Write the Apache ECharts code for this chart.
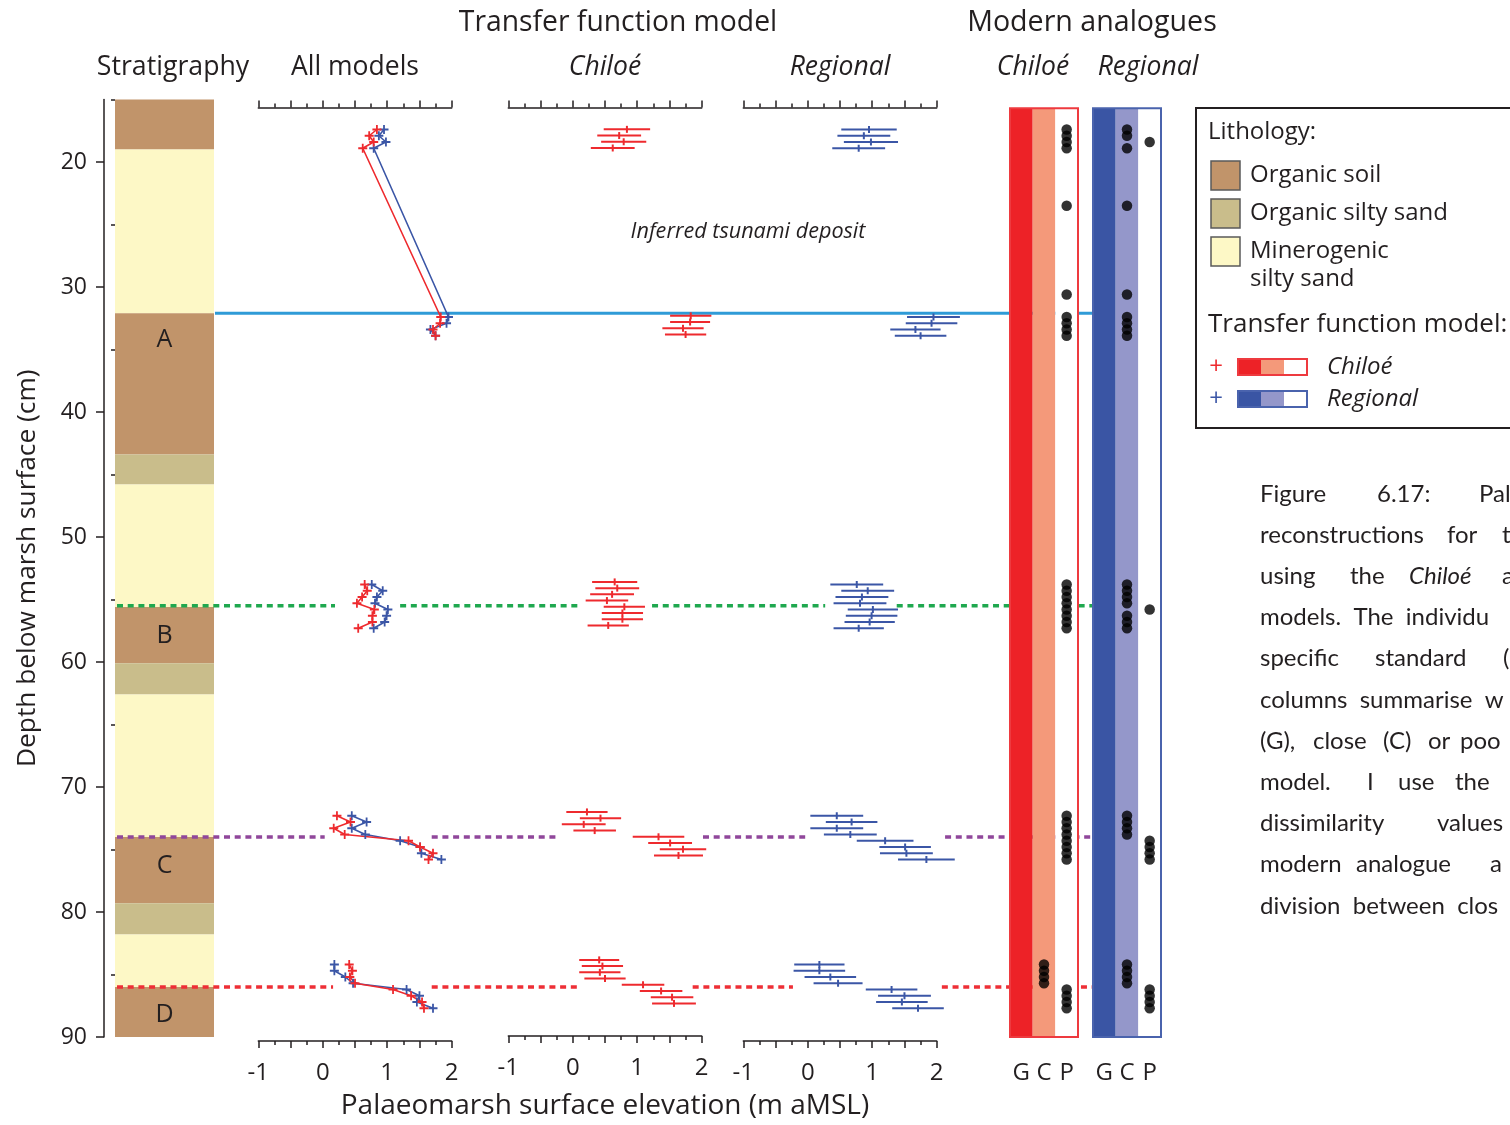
<!DOCTYPE html>
<html><head><meta charset="utf-8">
<script src="https://cdn.jsdelivr.net/npm/echarts@6/dist/echarts.min.js"></script>
<style>html,body{margin:0;padding:0;background:#fff}#c{width:1510px;height:1125px}</style>
</head><body><div id="c"></div>
<script>
// ---------------- DATA ----------------
const sampleDepths = [17.4,17.9,18.4,18.9, 32.4,32.9,33.4,33.9,
  53.8,54.3,54.8,55.3,55.8,56.3,56.8,57.3,
  72.3,72.8,73.3,73.8,74.3,74.8,75.3,75.8,
  84.2,84.7,85.2,85.7,86.2,86.7,87.2,87.7];
const sampleGroup = [0,0,0,0,0,0,0,0, 1,1,1,1,1,1,1,1, 2,2,2,2,2,2,2,2, 3,3,3,3,3,3,3,3];
const chiloeValue = [0.84,0.72,0.79,0.62, 1.83,1.82,1.71,1.75,
  0.65,0.69,0.61,0.53,0.80,0.77,0.77,0.55,
  0.22,0.43,0.17,0.34,1.33,1.51,1.71,1.64,
  0.41,0.46,0.42,0.50,1.09,1.37,1.54,1.57];
const chiloeError = [0.36,0.34,0.35,0.34, 0.32,0.31,0.32,0.32,
  0.35,0.34,0.34,0.33,0.32,0.32,0.32,0.32,
  0.32,0.32,0.34,0.33,0.40,0.34,0.36,0.38,
  0.31,0.32,0.32,0.32,0.33,0.33,0.33,0.34];
const regionalValue = [0.95,0.87,0.98,0.79, 1.95,1.92,1.67,1.75,
  0.76,0.93,0.84,0.81,1.01,0.99,0.96,0.79,
  0.45,0.68,0.45,0.66,1.20,1.51,1.53,1.84,
  0.18,0.18,0.35,0.47,1.30,1.50,1.46,1.71];
const regionalError = [0.43,0.41,0.42,0.41, 0.41,0.40,0.39,0.40,
  0.41,0.41,0.41,0.41,0.39,0.40,0.39,0.39,
  0.41,0.40,0.41,0.41,0.44,0.40,0.41,0.44,
  0.39,0.40,0.40,0.38,0.40,0.41,0.40,0.40];

// modern analogue classes (G good, C close, P poor)
const maDepth = [17.4,17.9,18.4,18.9,23.5,30.6,32.4,32.9,33.4,33.9,
  53.8,54.3,54.8,55.3,55.8,56.3,56.8,57.3,
  72.3,72.8,73.3,73.8,74.3,74.8,75.3,75.8,
  84.2,84.7,85.2,85.7,86.2,86.7,87.2,87.7];
const maChiloe = ['P','P','P','P','P','P','P','P','P','P',
  'P','P','P','P','P','P','P','P',
  'P','P','P','P','P','P','P','P',
  'C','C','C','C','P','P','P','P'];
const maRegional = ['C','C','P','C','C','C','C','C','C','C',
  'C','C','C','C','P','C','C','C',
  'C','C','C','C','P','P','P','P',
  'C','C','C','C','P','P','P','P'];
const maCategories = ['G','C','P'];
const maTop = 15.7, maBottom = 90;

// stratigraphy (0 organic soil, 1 organic silty sand, 2 minerogenic silty sand)
const stratTop  = [15, 19, 32.1, 43.4, 45.8, 55.6, 60.1, 62.6, 74.0, 79.3, 81.8, 86.0];
const stratBase = [19, 32.1, 43.4, 45.8, 55.6, 60.1, 62.6, 74.0, 79.3, 81.8, 86.0, 90];
const stratType = [0, 2, 0, 1, 2, 0, 1, 2, 0, 1, 2, 0];
const lithologyNames = ['Organic soil', 'Organic silty sand', 'Minerogenic\nsilty sand'];
const zoneLabels = ['A','B','C','D'];
const zoneLabelDepth = [34.2, 57.9, 76.3, 88.2];

// event horizons
const eventDepth = [32.1, 55.5, 74.0, 86.0];
const depthTicks = [20,30,40,50,60,70,80,90];
const depthMinorTicks = [15,25,35,45,55,65,75,85];
const elevTickLabels = [-1,0,1,2];

// ---------------- STYLE / LAYOUT ----------------
const FONT = 'Open Sans';
const TXT = '#231f20';
const RED = '#ee2a2e', BLUE = '#3b56a6';
const lithColors = ['#c1946a', '#c9bd8b', '#fdf8c6'];
const maColorsC = ['#ed2227', '#f4997a', '#ffffff'];
const maColorsR = ['#3a55a4', '#9497ca', '#ffffff'];
const eventStyle = [
  {stroke:'#2f9bd7', lineWidth:3, lineDash:null},
  {stroke:'#1fa84f', lineWidth:3.5, lineDash:[6,4.7]},
  {stroke:'#90479b', lineWidth:3.5, lineDash:[6,4.7]},
  {stroke:'#ee2f36', lineWidth:3.5, lineDash:[6,4.7]}
];
const eventStartX = [215, 117, 117, 117];
const eventEndX = 1093;
// gaps (in each panel's elevation units) where the horizon line is interrupted
const eventGaps = [
  null,
  [[0.19,1.20],[0.14,1.23],[0.27,1.38]],
  [[0.03,1.69],[-0.20,2.02],[-0.04,2.13]],
  [[0.16,1.69],[0.08,1.86],[-0.23,2.08]]
];
const TOP = 99.5, H = 937.5;
const panelLeft = [258.3, 508.3, 743.3], panelW = 193.4;

const chart = echarts.init(document.getElementById('c'));

const depthAxis = (g) => ({type:'value', gridIndex:g, min:15, max:90, inverse:true, show:false});
const axLine = {show:true, onZero:false, lineStyle:{color:TXT, width:1.5}};
function elevAxis(g, pos, name, italic){
  const a = {
    type:'value', gridIndex:g, position:pos, offset: pos==='bottom'?4:-8,
    min:-1, max:2, interval:0.5,
    axisLine:axLine,
    axisTick:{show:true, length:7, lineStyle:{color:TXT, width:1.5}},
    minorTick:{show:true, splitNumber:2, length:4, lineStyle:{color:TXT, width:1.5}},
    splitLine:{show:false}, minorSplitLine:{show:false},
    axisLabel:{show: pos==='bottom', customValues: elevTickLabels, fontFamily:FONT, fontSize:24, color:TXT, margin:20},
  };
  if (name){
    a.name = name; a.nameLocation = 'middle';
    a.nameGap = pos==='bottom' ? 56 : 27;
    a.nameTextStyle = {fontFamily:FONT, fontSize: pos==='bottom'?28:26.5, color:TXT, fontStyle: italic?'italic':'normal'};
  }
  return a;
}

const plusSym = 'path://M4,0H6V4H10V6H6V10H4V6H0V4H4Z';

const grids = [
  {left:115, top:TOP, width:99, height:H},
  {left:panelLeft[0], top:TOP, width:panelW, height:H},
  {left:panelLeft[1], top:TOP, width:panelW, height:H},
  {left:panelLeft[2], top:TOP, width:panelW, height:H},
  {left:1010, top:TOP, width:68, height:H},
  {left:1093, top:TOP, width:68, height:H}
];

const maXAxis = (g) => ({type:'category', gridIndex:g, data:maCategories, axisLine:{show:false}, axisTick:{show:false},
   axisLabel:{interval:0, hideOverlap:false, fontFamily:FONT, fontSize:24, color:TXT, margin:24}});
const xAxes = [
  {type:'value', gridIndex:0, min:0, max:1, show:false},
  elevAxis(1,'bottom'), elevAxis(1,'top','All models',false),
  elevAxis(2,'bottom','Palaeomarsh surface elevation (m aMSL)',false), elevAxis(2,'top','Chiloé',true),
  elevAxis(3,'bottom'), elevAxis(3,'top','Regional',true),
  maXAxis(4), maXAxis(5)
];

const yAxes = [
  {type:'value', gridIndex:0, min:15, max:90, inverse:true, position:'left', offset:11,
   axisLine:axLine,
   axisTick:{show:true, customValues:depthTicks, length:8, lineStyle:{color:TXT, width:1.5}},
   axisLabel:{customValues:depthTicks, fontFamily:FONT, fontSize:23, color:TXT, margin:17},
   splitLine:{show:false},
   name:'Depth below marsh surface (cm)', nameLocation:'middle', nameGap:63,
   nameTextStyle:{fontFamily:FONT, fontSize:26.3, color:TXT}},
  depthAxis(1), depthAxis(2), depthAxis(3), depthAxis(4), depthAxis(5),
  {type:'value', gridIndex:0, min:15, max:90, inverse:true, position:'left', offset:11,
   axisLine:{show:false},
   axisTick:{show:true, customValues:depthMinorTicks, length:4, lineStyle:{color:TXT, width:1.5}},
   axisLabel:{show:false}, splitLine:{show:false}}
];

const series = [];
// stratigraphy column
series.push({
  type:'custom', xAxisIndex:0, yAxisIndex:0, z:1, silent:true,
  data: stratTop.map((t,i)=>[t, stratBase[i], stratType[i]]),
  encode:{y:[0,1]},
  renderItem(params, api){
    const a = api.coord([0, api.value(0)]), b = api.coord([1, api.value(1)]);
    return {type:'rect', shape:{x:a[0], y:a[1], width:b[0]-a[0], height:b[1]-a[1]},
      style:{fill: lithColors[api.value(2)]}};
  }
});
// zone labels
series.push({
  type:'custom', xAxisIndex:0, yAxisIndex:0, z:6, silent:true,
  data: zoneLabels.map((n,i)=>[zoneLabelDepth[i], i]),
  encode:{y:0},
  renderItem(params, api){
    const p = api.coord([0.5, api.value(0)]);
    return {type:'text', x:p[0], y:p[1], style:{text: zoneLabels[api.value(1)], fill:TXT,
      font:'25px "'+FONT+'"', textAlign:'center', textVerticalAlign:'middle'}};
  }
});
// All-models lines
[0,1,2,3].forEach(g=>{
  const idx = sampleDepths.map((d,i)=>i).filter(i=>sampleGroup[i]===g);
  series.push({type:'line', xAxisIndex:1, yAxisIndex:1, z:4,
    data: idx.map(i=>[regionalValue[i], sampleDepths[i]]),
    symbol:plusSym, symbolSize:9, lineStyle:{color:BLUE, width:1.6}, itemStyle:{color:BLUE}});
  series.push({type:'line', xAxisIndex:1, yAxisIndex:1, z:4,
    data: idx.map(i=>[chiloeValue[i], sampleDepths[i]]),
    symbol:plusSym, symbolSize:9, lineStyle:{color:RED, width:1.6}, itemStyle:{color:RED}});
});
// error bars
function errSeries(xi, yi, vals, errs, col){
  return {type:'custom', xAxisIndex:xi, yAxisIndex:yi, z:4, silent:true,
    data: vals.map((v,i)=>[v, sampleDepths[i], errs[i]]),
    renderItem(params, api){
      const v = api.value(0), d = api.value(1), e = api.value(2);
      const a = api.coord([v-e, d]), b = api.coord([v+e, d]), c = api.coord([v, d]);
      return {type:'group', children:[
        {type:'line', shape:{x1:a[0], y1:a[1], x2:b[0], y2:b[1]}, style:{stroke:col, lineWidth:2}},
        {type:'line', shape:{x1:c[0], y1:c[1]-3.5, x2:c[0], y2:c[1]+3.5}, style:{stroke:col, lineWidth:2}}
      ]};
    }};
}
series.push(errSeries(3, 2, chiloeValue, chiloeError, RED));
series.push(errSeries(5, 3, regionalValue, regionalError, BLUE));

// modern analogue columns
function maCols(xi, yi, colors, border){
  series.push({type:'custom', xAxisIndex:xi, yAxisIndex:yi, z:10, silent:true,
    data: maCategories.map((c,i)=>[i, maTop, maBottom]),
    renderItem(params, api){
      const a = api.coord([api.value(0), api.value(1)]), b = api.coord([api.value(0), api.value(2)]);
      const bw = api.size([1,0])[0];
      return {type:'rect', shape:{x:a[0]-bw/2, y:a[1], width:bw, height:b[1]-a[1]},
        style:{fill: colors[api.value(0)]}};
    }});
  series.push({type:'custom', xAxisIndex:xi, yAxisIndex:yi, z:11, silent:true,
    data: [[0, maTop, maBottom]],
    renderItem(params, api){
      const a = api.coord([0, api.value(1)]), b = api.coord([0, api.value(2)]);
      const bw = api.size([1,0])[0];
      return {type:'rect', shape:{x:a[0]-bw/2, y:a[1], width:bw*3, height:b[1]-a[1]},
        style:{fill:'none', stroke:border, lineWidth:2}};
    }});
}
maCols(7, 4, maColorsC, '#ee3a3f');
maCols(8, 5, maColorsR, '#4a63ad');
series.push({type:'scatter', xAxisIndex:7, yAxisIndex:4, z:12, symbolSize:10.5,
  itemStyle:{color:'#000'}, data: maDepth.map((d,i)=>[maChiloe[i], d])});
series.push({type:'scatter', xAxisIndex:8, yAxisIndex:5, z:12, symbolSize:10.5,
  itemStyle:{color:'#000'}, data: maDepth.map((d,i)=>[maRegional[i], d])});

chart.setOption({animation:false, grid:grids, xAxis:xAxes, yAxis:yAxes, series:series});

// ---------------- GRAPHIC TEXT / LEGEND / HORIZONS ----------------
const G = [];
function txt(x, y, s, size, opts){
  opts = opts || {};
  G.push({type:'text', x:x, y:y, z:20, silent:true, style:{text:s, fill:opts.fill||TXT,
    font:(opts.italic?'italic ':'')+size+'px "'+(opts.font||FONT)+'"',
    textAlign:opts.align||'center', textVerticalAlign:'middle'}});
}
txt(618, 23, 'Transfer function model', 28.3);
txt(1092, 23, 'Modern analogues', 28.6);
txt(173, 67, 'Stratigraphy', 26.7);
txt(1033, 67, 'Chiloé', 26.5, {italic:true});
txt(1148, 67, 'Regional', 26.5, {italic:true});
txt(748, 232, 'Inferred tsunami deposit', 21.6, {italic:true});

// legend box
G.push({type:'rect', z:20, silent:true, shape:{x:1196, y:108, width:330, height:320}, style:{fill:'#fff', stroke:TXT, lineWidth:2}});
txt(1208, 132, 'Lithology:', 24, {align:'left'});
const swY = [161, 199, 237];
swY.forEach((y,i)=>{
  G.push({type:'rect', z:21, silent:true, shape:{x:1211, y:y, width:29, height:29}, style:{fill:lithColors[i], stroke:'#5a5a5a', lineWidth:1.5}});
});
txt(1250, 175, lithologyNames[0], 24, {align:'left'});
txt(1250, 213, lithologyNames[1], 24, {align:'left'});
txt(1250, 251, 'Minerogenic', 24, {align:'left'});
txt(1250, 279, 'silty sand', 24, {align:'left'});
txt(1208, 325, 'Transfer function model:', 26, {align:'left'});
[[367, maColorsC, RED, '#ee3a3f', 'Chiloé'], [399, maColorsR, BLUE, '#4a63ad', 'Regional']].forEach(r=>{
  const y = r[0];
  txt(1216, y, '+', 24, {fill:r[2]});
  r[1].forEach((c,i)=>{
    G.push({type:'rect', z:21, silent:true, shape:{x:1238+i*23, y:y-8, width:23, height:16}, style:{fill:c}});
  });
  G.push({type:'rect', z:22, silent:true, shape:{x:1238, y:y-8, width:69, height:16}, style:{fill:'none', stroke:r[3], lineWidth:2}});
  txt(1327, y, r[4], 24, {italic:true, align:'left'});
});

// caption (cut off at right edge)
const cap = [
  [494, [[1260,'Figure'],[1377,'6.17:'],[1479,'Pal']]],
  [535, [[1260,'reconstructions'],[1447,'for'],[1502,'t']]],
  [576, [[1260,'using'],[1350,'the'],[1409,'Chiloé',true],[1502,'a']]],
  [617, [[1260,'models.  The  individu']]],
  [658, [[1260,'specific'],[1375,'standard'],[1503,'(']]],
  [700, [[1260,'columns  summarise  w']]],
  [741, [[1260,'(G),'],[1313,'close'],[1383,'(C)'],[1428,'or'],[1460,'poo']]],
  [782, [[1260,'model.'],[1367,'I'],[1398,'use'],[1455,'the']]],
  [823, [[1260,'dissimilarity'],[1437,'values']]],
  [864, [[1260,'modern'],[1356,'analogue'],[1490,'a']]],
  [906, [[1260,'division  between  clos']]]
];
cap.forEach(l=>l[1].forEach(w=>txt(w[0], l[0], w[1], 24, {align:'left', font:'Lato', italic:!!w[2]})));

// horizons
eventDepth.forEach((d,k)=>{
  const y = chart.convertToPixel({yAxisIndex:0}, d);
  const segs = [];
  let cur = eventStartX[k];
  if (eventGaps[k]) eventGaps[k].forEach((gp,p)=>{
    const ax = [1,3,5][p];
    const ga = chart.convertToPixel({xAxisIndex:ax}, gp[0]);
    const gb = chart.convertToPixel({xAxisIndex:ax}, gp[1]);
    segs.push([cur, ga]); cur = gb;
  });
  segs.push([cur, eventEndX]);
  const st = eventStyle[k];
  segs.forEach(s=>{
    const style = {stroke:st.stroke, lineWidth:st.lineWidth};
    if (st.lineDash) style.lineDash = st.lineDash;
    G.push({type:'line', z:3, silent:true, shape:{x1:s[0], y1:y, x2:s[1], y2:y}, style:style});
  });
});

chart.setOption({graphic:{elements:G}});
</script></body></html>
